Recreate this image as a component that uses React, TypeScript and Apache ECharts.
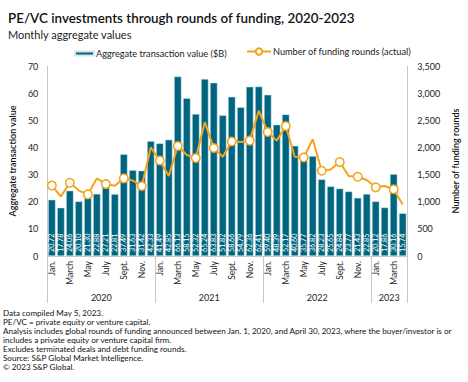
import React, { useEffect, useRef } from "react";
import * as echarts from "echarts";

const months: string[] = [
  "Jan. 2020", "Feb. 2020", "March 2020", "April 2020", "May 2020", "June 2020", "July 2020", "Aug. 2020", "Sept. 2020", "Oct. 2020", "Nov. 2020", "Dec. 2020",
  "Jan. 2021", "Feb. 2021", "March 2021", "April 2021", "May 2021", "June 2021", "July 2021", "Aug. 2021", "Sept. 2021", "Oct. 2021", "Nov. 2021", "Dec. 2021",
  "Jan. 2022", "Feb. 2022", "March 2022", "April 2022", "May 2022", "June 2022", "July 2022", "Aug. 2022", "Sept. 2022", "Oct. 2022", "Nov. 2022", "Dec. 2022",
  "Jan. 2023", "Feb. 2023", "March 2023", "April 2023",
];

const transactionValue: number[] = [
  20.72, 17.78, 24.06, 20.10, 21.30, 22.88, 27.21, 22.81, 37.49, 31.63, 31.42, 42.33,
  41.49, 42.85, 66.13, 58.15, 52.32, 65.24, 63.83, 51.82, 58.66, 54.79, 62.36, 62.41,
  59.40, 48.39, 52.17, 40.60, 35.77, 36.82, 28.23, 25.65, 24.84, 23.77, 21.43, 22.85,
  20.12, 17.86, 30.16, 15.74,
];

const fundingRounds: number[] = [
  1300, 1095, 1350, 1205, 1135, 1430, 1325, 1295, 1430, 1390, 1290, 2000,
  1760, 1475, 2025, 1860, 1805, 2465, 1990, 1830, 2110, 2100, 2125, 2675,
  2285, 2125, 2395, 1830, 1815, 2150, 1570, 1595, 1730, 1475, 1460, 1400,
  1265, 1290, 1230, 950,
];

const yearLabels: string[] = ["2020", "2021", "2022", "2023"];
const yearLabelPositions: number[] = [6, 18, 30, 38];
const yearBoundaries: number[] = [0, 12, 24, 36, 40];

const footnotes: string[] = [
  "Data compiled May 5, 2023.",
  "PE/VC = private equity or venture capital.",
  "Analysis includes global rounds of funding announced between Jan. 1, 2020, and April 30, 2023, where the buyer/investor is or",
  "includes a private equity or venture capital firm.",
  "Excludes terminated deals and debt funding rounds.",
  "Source: S&P Global Market Intelligence.",
  "\u00A9 2023 S&P Global.",
];

const BAR_NAME = "Aggregate transaction value ($B)";
const LINE_NAME = "Number of funding rounds (actual)";

const FONT = "Lato";
const TEAL = "#00657f";
const ORANGE = "#f5a31a";
const AXIS_GREY = "#c8c8c8";

export default function App() {
  const ref = useRef<HTMLDivElement>(null);

  useEffect(() => {
    if (!ref.current) return;
    const chart = echarts.init(ref.current, undefined, { renderer: "svg" });
    const option: any = {
      animation: false,
      textStyle: { fontFamily: FONT },
      title: [
        {
          text: "PE/VC investments through rounds of funding, 2020-2023",
          left: 3,
          top: 6,
          textStyle: { fontSize: 13.4, fontWeight: 600, color: "#111", fontFamily: FONT },
        },
        {
          text: "Monthly aggregate values",
          left: 3,
          top: 24,
          textStyle: { fontSize: 11, fontWeight: 400, color: "#222", fontFamily: FONT },
        },
      ],
      legend: [
        {
          top: 44,
          left: 69,
          itemWidth: 19,
          itemHeight: 4,
          itemGap: 2,
          textStyle: { fontSize: 9.2, color: "#222", fontFamily: FONT, padding: [0, 0, 0, -3] },
          data: [{ name: BAR_NAME, icon: "rect", itemStyle: { color: TEAL } }],
        },
        {
          top: 42,
          left: 241,
          itemWidth: 24,
          itemHeight: 8,
          textStyle: { fontSize: 9.2, color: "#222", fontFamily: FONT, padding: [0, 0, 0, -3] },
          data: [{ name: LINE_NAME }],
        },
      ],
      grid: { left: 36, right: 49, top: 66, bottom: 126, containLabel: false },
      xAxis: [
        {
          type: "category",
          data: months,
          position: "bottom",
          axisLine: { show: true, lineStyle: { color: AXIS_GREY, width: 1 } },
          axisTick: { show: false },
          axisLabel: {
            interval: 1,
            rotate: 90,
            fontSize: 8.5,
            color: "#222",
            margin: 5,
            fontFamily: FONT,
            formatter: (v: string) => v.split(" ")[0],
          },
        },
        {
          type: "value",
          min: 0,
          max: 40,
          position: "bottom",
          axisLine: { show: false },
          splitLine: { show: false },
          axisTick: {
            show: true,
            length: 47,
            customValues: yearBoundaries,
            lineStyle: { color: AXIS_GREY, width: 1 },
          },
          axisLabel: {
            show: true,
            customValues: yearLabelPositions,
            margin: 37,
            fontSize: 9,
            color: "#222",
            fontFamily: FONT,
            formatter: (v: number) => yearLabels[yearLabelPositions.indexOf(v)] ?? "",
          },
        },
      ],
      yAxis: [
        {
          type: "value",
          min: 0,
          max: 70,
          interval: 10,
          name: "Aggregate transaction value",
          nameLocation: "middle",
          nameGap: 26,
          nameTextStyle: { fontSize: 9, fontWeight: 600, color: "#111", fontFamily: FONT },
          axisLine: { show: true, lineStyle: { color: AXIS_GREY } },
          axisTick: { show: false },
          splitLine: { show: false },
          axisLabel: { fontSize: 9, color: "#222", margin: 9, fontFamily: FONT },
        },
        {
          type: "value",
          min: 0,
          max: 3500,
          interval: 500,
          position: "right",
          name: "Number of funding rounds",
          nameLocation: "middle",
          nameGap: 42,
          nameRotate: 90,
          nameTextStyle: { fontSize: 9, fontWeight: 600, color: "#111", fontFamily: FONT },
          axisLine: { show: true, lineStyle: { color: AXIS_GREY } },
          axisTick: { show: false },
          splitLine: { show: false },
          axisLabel: {
            fontSize: 9,
            color: "#222",
            margin: 10,
            fontFamily: FONT,
            formatter: (v: number) => v.toLocaleString("en-US"),
          },
        },
      ],
      series: [
        {
          name: BAR_NAME,
          type: "bar",
          xAxisIndex: 0,
          yAxisIndex: 0,
          data: transactionValue,
          barCategoryGap: "18%",
          itemStyle: { color: TEAL, borderColor: "#d6e6ec", borderWidth: 0.5 },
          label: {
            show: true,
            position: "insideBottom",
            rotate: 90,
            align: "left",
            verticalAlign: "middle",
            distance: 4,
            fontSize: 7.2,
            color: "#ffffff",
            fontFamily: FONT,
            formatter: (p: any) => Number(p.value).toFixed(2),
          },
        },
        {
          name: LINE_NAME,
          type: "line",
          xAxisIndex: 0,
          yAxisIndex: 1,
          data: fundingRounds,
          symbol: "circle",
          symbolSize: 8.5,
          lineStyle: { color: ORANGE, width: 2 },
          itemStyle: { color: "#ffffff", borderColor: ORANGE, borderWidth: 1.5 },
          z: 5,
        },
      ],
      graphic: [
        {
          type: "text",
          left: 3,
          top: 309,
          style: {
            text: footnotes.join("\n"),
            fontSize: 8.1,
            lineHeight: 8.9,
            fill: "#111",
            fontFamily: FONT,
          },
        },
      ],
    };
    chart.setOption(option);
    return () => chart.dispose();
  }, []);

  return (
    <div
      ref={ref}
      style={{ position: "fixed", left: 0, top: 0, width: 468, height: 382, background: "#fff" }}
    />
  );
}
